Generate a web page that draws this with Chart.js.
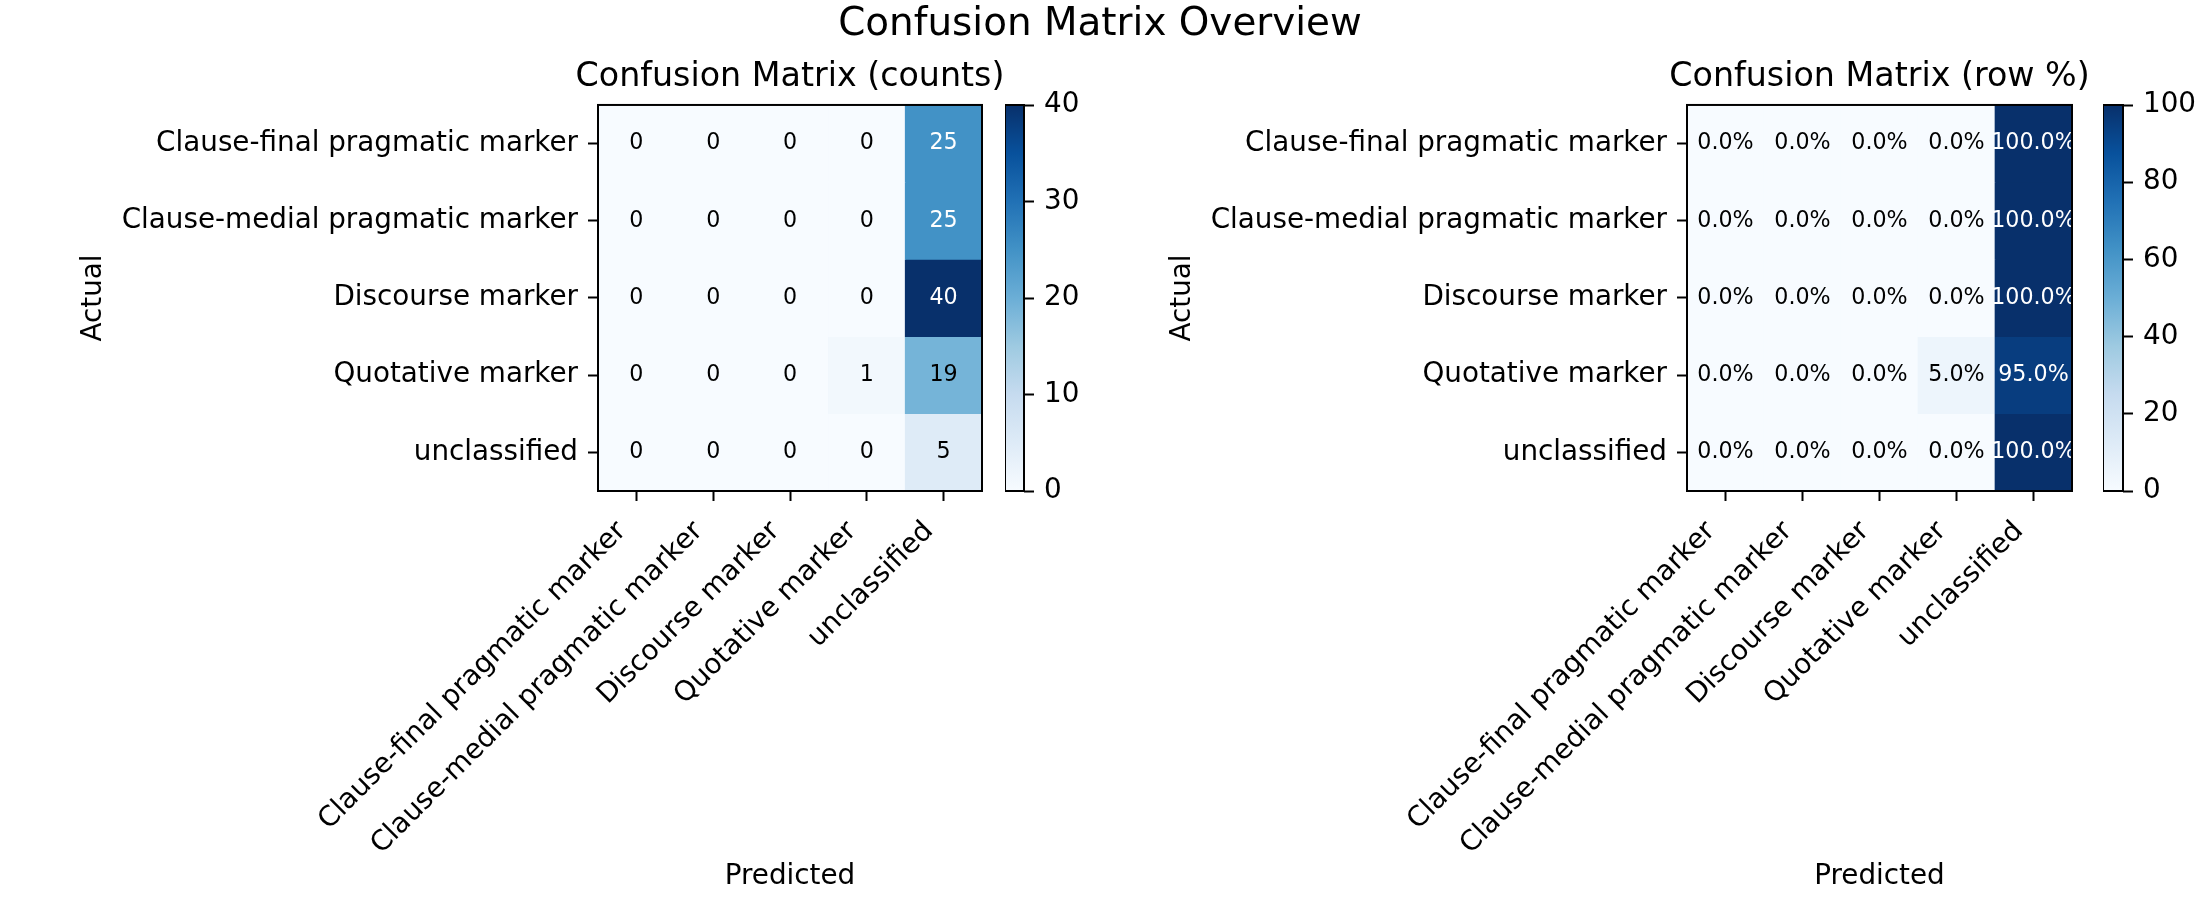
<!DOCTYPE html>
<html>
<head>
<meta charset="utf-8">
<script src="https://cdn.jsdelivr.net/npm/chart.js@4.4.1/dist/chart.umd.min.js"></script>
<style>
  html, body { margin: 0; padding: 0; background: #ffffff; overflow: hidden; }
  #wrap { position: relative; width: 2200px; height: 900px; overflow: hidden; background: #ffffff; }
  canvas { position: absolute; top: 0; }
</style>
</head>
<body>
<div id="wrap">
  <canvas id="figTitle" width="2200" height="900" style="left:0px"></canvas>
  <canvas id="cmCounts" width="1434" height="900" style="left:73px"></canvas>
  <canvas id="cbCounts" width="115" height="900" style="left:1005px"></canvas>
  <canvas id="cmPct" width="1435" height="900" style="left:1162px"></canvas>
  <canvas id="cbPct" width="97" height="900" style="left:2103px"></canvas>
</div>
<script>
// ---------------- data ----------------
const figureTitle = 'Confusion Matrix Overview';
const countsTitle = 'Confusion Matrix (counts)';
const pctTitle = 'Confusion Matrix (row %)';
const xAxisTitle = 'Predicted';
const yAxisTitle = 'Actual';

const actualLabels = ['Clause-final pragmatic marker', 'Clause-medial pragmatic marker', 'Discourse marker', 'Quotative marker', 'unclassified'];
const predictedLabels = ['Clause-final pragmatic marker', 'Clause-medial pragmatic marker', 'Discourse marker', 'Quotative marker', 'unclassified'];

// counts (rows = actual, columns = predicted)
const countsClauseFinal   = [0, 0, 0, 0, 25];
const countsClauseMedial  = [0, 0, 0, 0, 25];
const countsDiscourse     = [0, 0, 0, 0, 40];
const countsQuotative     = [0, 0, 0, 1, 19];
const countsUnclassified  = [0, 0, 0, 0, 5];

// row percentages
const pctClauseFinal  = [0, 0, 0, 0, 100];
const pctClauseMedial = [0, 0, 0, 0, 100];
const pctDiscourse    = [0, 0, 0, 0, 100];
const pctQuotative    = [0, 0, 0, 5, 95];
const pctUnclassified = [0, 0, 0, 0, 100];

const countsRange = [0, 40];
const pctRange = [0, 100];
const countsTicks = [0, 10, 20, 30, 40];
const pctTicks = [0, 20, 40, 60, 80, 100];

// ---------------- style helpers ----------------
Chart.defaults.font.family = "'DejaVu Sans', sans-serif";
Chart.defaults.color = '#000000';

const BLUES = ['#f7fbff', '#deebf7', '#c6dbef', '#9ecae1', '#6baed6', '#4292c6', '#2171b5', '#08519c', '#08306b'];
function hexRgb(h) { return [parseInt(h.slice(1, 3), 16), parseInt(h.slice(3, 5), 16), parseInt(h.slice(5, 7), 16)]; }
function blues(t) {
  t = Math.max(0, Math.min(1, t));
  const p = t * (BLUES.length - 1);
  const i = Math.min(Math.floor(p), BLUES.length - 2);
  const f = p - i;
  const a = hexRgb(BLUES[i]), b = hexRgb(BLUES[i + 1]);
  return 'rgb(' + a.map((c, k) => Math.round(c + (b[k] - c) * f)).join(',') + ')';
}

const TICK_FONT = 27.8;
const ANNOT_FONT = 22.2;
const tickGrid = { drawOnChartArea: false, drawTicks: true, tickLength: 10, tickWidth: 2, tickColor: '#000000' };

const framePlugin = {
  id: 'frame',
  afterDraw(chart) {
    const { ctx, chartArea: a } = chart;
    ctx.save();
    ctx.strokeStyle = '#000000';
    ctx.lineWidth = 2;
    ctx.strokeRect(a.left, a.top, a.right - a.left, a.bottom - a.top);
    ctx.restore();
  }
};

function cellTextPlugin(rows, range, fmt) {
  const mid = (range[0] + range[1]) / 2;
  return {
    id: 'cellText',
    afterDatasetsDraw(chart) {
      const { ctx } = chart;
      ctx.save();
      ctx.font = ANNOT_FONT + "px 'DejaVu Sans'";
      ctx.textAlign = 'center';
      ctx.textBaseline = 'middle';
      rows.forEach((vals, i) => {
        const meta = chart.getDatasetMeta(i);
        meta.data.forEach((bar, j) => {
          const p = bar.getProps(['x', 'y', 'base'], true);
          const v = vals[j];
          ctx.fillStyle = v > mid ? '#ffffff' : '#000000';
          ctx.fillText(fmt(v), p.x, (p.y + p.base) / 2);
        });
      });
      ctx.restore();
    }
  };
}

function heatmap(id, rows, range, fmt, title) {
  const datasets = rows.map((vals, i) => ({
    label: actualLabels[i],
    xAxisID: 'x',
    yAxisID: 'y',
    data: predictedLabels.map(() => [i - 0.5, i + 0.5]),
    backgroundColor: vals.map(v => blues((v - range[0]) / (range[1] - range[0]))),
    borderWidth: 0,
    grouped: false,
    barPercentage: 1,
    categoryPercentage: 1
  }));
  return new Chart(document.getElementById(id), {
    type: 'bar',
    data: { labels: predictedLabels, datasets },
    options: {
      responsive: false,
      animation: false,
      events: [],
      layout: { padding: { left: 0, right: 0, top: 0, bottom: 3 } },
      plugins: {
        legend: { display: false },
        tooltip: { enabled: false },
        title: {
          display: true, text: title, color: '#000000',
          font: { size: 33.3, weight: 'normal' },
          padding: { top: 57, bottom: 8 }
        }
      },
      scales: {
        x: {
          type: 'category',
          offset: true,
          grid: Object.assign({ offset: false }, tickGrid),
          border: { display: false },
          ticks: {
            autoSkip: false, minRotation: 45, maxRotation: 45,
            padding: 14, labelOffset: -14.5,
            color: '#000000', font: { size: TICK_FONT }
          },
          title: { display: true, text: xAxisTitle, color: '#000000', font: { size: TICK_FONT }, padding: { top: 4, bottom: 4 } },
          afterFit(s) { s.height = 406; }
        },
        y: {
          type: 'linear',
          min: -0.5, max: 4.5, reverse: true,
          afterBuildTicks(s) { s.ticks = actualLabels.map((_, i) => ({ value: i })); },
          grid: tickGrid,
          border: { display: false },
          ticks: {
            padding: 10, color: '#000000', font: { size: TICK_FONT },
            callback: (v) => actualLabels[v]
          },
          title: { display: true, text: yAxisTitle, color: '#000000', font: { size: TICK_FONT }, padding: { top: 4, bottom: 4 } },
          afterFit(s) { s.width = 525; }
        },
        yPad: {
          type: 'linear', position: 'right', display: true,
          grid: { display: false }, border: { display: false },
          ticks: { display: false },
          afterFit(s) { s.width = 525; }
        }
      }
    },
    plugins: [cellTextPlugin(rows, range, fmt), framePlugin]
  });
}

function colorbar(id, range, ticks, axisWidth) {
  return new Chart(document.getElementById(id), {
    type: 'bar',
    data: {
      labels: [''],
      datasets: [{
        data: [range],
        backgroundColor(ctx) {
          const chart = ctx.chart;
          const y = chart.scales.y;
          if (!chart.chartArea || !y) return BLUES[4];
          const g = chart.ctx.createLinearGradient(0, y.getPixelForValue(range[0]), 0, y.getPixelForValue(range[1]));
          BLUES.forEach((c, k) => g.addColorStop(k / (BLUES.length - 1), c));
          return g;
        },
        borderWidth: 0,
        barPercentage: 1,
        categoryPercentage: 1
      }]
    },
    options: {
      responsive: false,
      animation: false,
      events: [],
      layout: { padding: { left: 0, right: 0, top: 105, bottom: 409 } },
      plugins: { legend: { display: false }, tooltip: { enabled: false } },
      scales: {
        x: { display: false, offset: true },
        y: {
          type: 'linear', position: 'right',
          min: range[0], max: range[1],
          afterBuildTicks(s) { s.ticks = ticks.map(v => ({ value: v })); },
          grid: tickGrid,
          border: { display: false },
          ticks: { padding: 10, color: '#000000', font: { size: TICK_FONT } },
          afterFit(s) { s.width = axisWidth; }
        }
      }
    },
    plugins: [framePlugin]
  });
}

// figure title
new Chart(document.getElementById('figTitle'), {
  type: 'bar',
  data: { labels: [], datasets: [] },
  options: {
    responsive: false, animation: false, events: [],
    plugins: {
      legend: { display: false }, tooltip: { enabled: false },
      title: { display: true, text: figureTitle, color: '#000000', font: { size: 38.9, weight: 'normal' }, padding: { top: 1.7, bottom: 0 } }
    },
    scales: { x: { display: false }, y: { display: false } }
  }
});

heatmap('cmCounts',
  [countsClauseFinal, countsClauseMedial, countsDiscourse, countsQuotative, countsUnclassified],
  countsRange, v => String(v), countsTitle);
colorbar('cbCounts', countsRange, countsTicks, 96);

heatmap('cmPct',
  [pctClauseFinal, pctClauseMedial, pctDiscourse, pctQuotative, pctUnclassified],
  pctRange, v => v.toFixed(1) + '%', pctTitle);
colorbar('cbPct', pctRange, pctTicks, 77);
</script>
</body>
</html>
